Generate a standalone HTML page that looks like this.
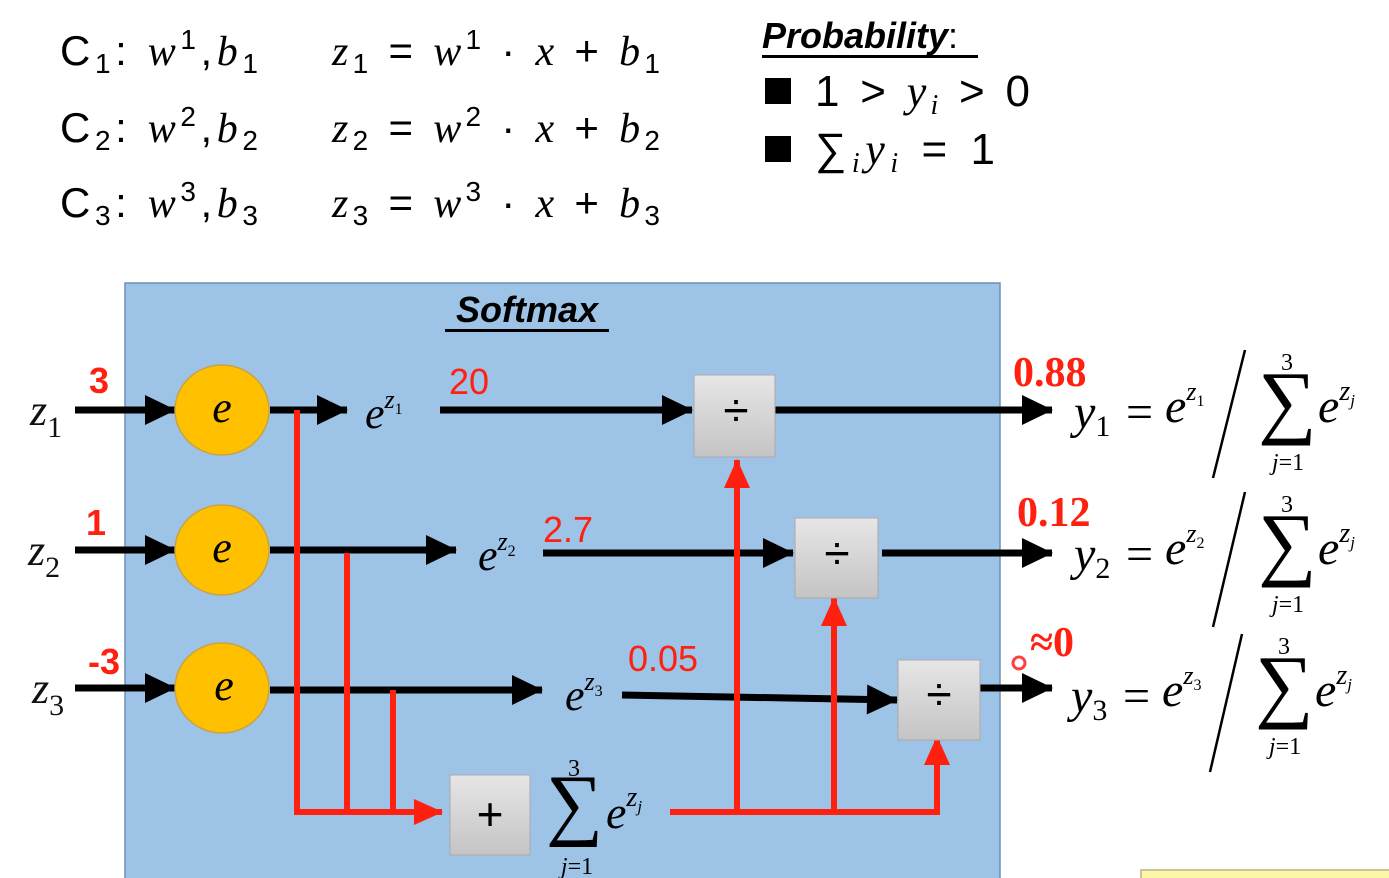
<!DOCTYPE html>
<html><head><meta charset="utf-8"><style>
html,body{margin:0;padding:0;background:#fff;}
svg{display:block;}
.m{font-family:"Liberation Serif",serif;font-style:italic;}
.s{font-family:"Liberation Sans",sans-serif;}
</style></head><body>
<svg width="1389" height="878" viewBox="0 0 1389 878" xmlns="http://www.w3.org/2000/svg">
<defs>
<marker id="ab" markerUnits="userSpaceOnUse" markerWidth="32" markerHeight="34" refX="30" refY="17" orient="auto" overflow="visible"><path d="M0,2 L31,17 L0,32 z" fill="#000"/></marker>
<marker id="ar" markerUnits="userSpaceOnUse" markerWidth="30" markerHeight="32" refX="28" refY="16" orient="auto" overflow="visible"><path d="M0,3 L29,16 L0,29 z" fill="#ff2010"/></marker>
<linearGradient id="g" x1="0" y1="0" x2="0" y2="1"><stop offset="0" stop-color="#e6e6e6"/><stop offset="1" stop-color="#c4c4c4"/></linearGradient>
</defs>
<g font-size="42">
<text x="60" y="65" class="s" textLength="198" lengthAdjust="spacing">C<tspan font-size="28" dy="8">1</tspan><tspan dy="-8">: </tspan><tspan class="m">w</tspan><tspan font-size="28" dy="-16">1</tspan><tspan dy="16">,</tspan><tspan class="m">b</tspan><tspan font-size="28" dy="8">1</tspan></text>
<text x="60" y="142" class="s" textLength="198" lengthAdjust="spacing">C<tspan font-size="28" dy="8">2</tspan><tspan dy="-8">: </tspan><tspan class="m">w</tspan><tspan font-size="28" dy="-16">2</tspan><tspan dy="16">,</tspan><tspan class="m">b</tspan><tspan font-size="28" dy="8">2</tspan></text>
<text x="60" y="217" class="s" textLength="198" lengthAdjust="spacing">C<tspan font-size="28" dy="8">3</tspan><tspan dy="-8">: </tspan><tspan class="m">w</tspan><tspan font-size="28" dy="-16">3</tspan><tspan dy="16">,</tspan><tspan class="m">b</tspan><tspan font-size="28" dy="8">3</tspan></text>
<text x="332" y="65" class="s" textLength="328" lengthAdjust="spacing"><tspan class="m">z</tspan><tspan font-size="28" dy="8">1</tspan><tspan dy="-8"> = </tspan><tspan class="m">w</tspan><tspan font-size="28" dy="-16">1</tspan><tspan dy="16"> · </tspan><tspan class="m">x</tspan> + <tspan class="m">b</tspan><tspan font-size="28" dy="8">1</tspan></text>
<text x="332" y="142" class="s" textLength="328" lengthAdjust="spacing"><tspan class="m">z</tspan><tspan font-size="28" dy="8">2</tspan><tspan dy="-8"> = </tspan><tspan class="m">w</tspan><tspan font-size="28" dy="-16">2</tspan><tspan dy="16"> · </tspan><tspan class="m">x</tspan> + <tspan class="m">b</tspan><tspan font-size="28" dy="8">2</tspan></text>
<text x="332" y="217" class="s" textLength="328" lengthAdjust="spacing"><tspan class="m">z</tspan><tspan font-size="28" dy="8">3</tspan><tspan dy="-8"> = </tspan><tspan class="m">w</tspan><tspan font-size="28" dy="-16">3</tspan><tspan dy="16"> · </tspan><tspan class="m">x</tspan> + <tspan class="m">b</tspan><tspan font-size="28" dy="8">3</tspan></text>
</g>
<text x="762" y="48" class="s" font-size="36" font-weight="bold" font-style="italic">Probability<tspan font-weight="normal" font-style="normal">:</tspan></text>
<rect x="762" y="55" width="216" height="3" fill="#000"/>
<rect x="765" y="78" width="26" height="26" fill="#000"/>
<rect x="765" y="136" width="26" height="26" fill="#000"/>
<text x="815" y="106" font-size="44" class="s" textLength="215" lengthAdjust="spacing">1 &gt; <tspan class="m">y</tspan><tspan font-size="28" dy="8" class="m">i</tspan><tspan dy="-8"> &gt; 0</tspan></text>
<text x="815" y="164" font-size="44" class="s" textLength="180" lengthAdjust="spacing">∑<tspan font-size="28" dy="8" class="m">i</tspan><tspan dy="-8" class="m">y</tspan><tspan font-size="28" dy="8" class="m">i</tspan><tspan dy="-8"> = 1</tspan></text>
<rect x="125" y="283" width="875" height="600" fill="#9dc3e6" stroke="#6d8fb5" stroke-width="1.5"/>
<text x="527" y="322" text-anchor="middle" class="s" font-size="36" font-weight="bold" font-style="italic">Softmax</text>
<rect x="445" y="329" width="164" height="3" fill="#000"/>
<g stroke="#000" stroke-width="7" fill="none">
<line x1="75" y1="410" x2="175" y2="410" marker-end="url(#ab)"/>
<line x1="75" y1="550" x2="175" y2="550" marker-end="url(#ab)"/>
<line x1="75" y1="688" x2="175" y2="688" marker-end="url(#ab)"/>
<line x1="270" y1="410" x2="347" y2="410" marker-end="url(#ab)"/>
<line x1="270" y1="550" x2="456" y2="550" marker-end="url(#ab)"/>
<line x1="270" y1="690" x2="542" y2="690" marker-end="url(#ab)"/>
<line x1="440" y1="410" x2="692" y2="410" marker-end="url(#ab)"/>
<line x1="543" y1="553" x2="793" y2="553" marker-end="url(#ab)"/>
<line x1="622" y1="695" x2="897" y2="700" marker-end="url(#ab)"/>
<line x1="775" y1="410" x2="1052" y2="410" marker-end="url(#ab)"/>
<line x1="882" y1="553" x2="1052" y2="553" marker-end="url(#ab)"/>
<line x1="978" y1="688" x2="1052" y2="688" marker-end="url(#ab)"/>
</g>
<g class="m" font-size="44" fill="#111">
<text x="30" y="425">z<tspan font-size="30" dy="12" font-style="normal">1</tspan></text>
<text x="28" y="565">z<tspan font-size="30" dy="12" font-style="normal">2</tspan></text>
<text x="32" y="703">z<tspan font-size="30" dy="12" font-style="normal">3</tspan></text>
</g>
<g class="s" font-size="36" font-weight="bold" fill="#ff2010">
<text x="89" y="393">3</text><text x="86" y="535">1</text><text x="88" y="674">-3</text>
</g>
<g fill="#ffc000" stroke="#c9a247" stroke-width="1.5">
<ellipse cx="222" cy="410" rx="47" ry="45"/><ellipse cx="222" cy="550" rx="47" ry="45"/><ellipse cx="222" cy="688" rx="47" ry="45"/>
</g>
<g class="m" font-size="44" text-anchor="middle"><text x="222" y="422">e</text><text x="222" y="562">e</text><text x="224" y="700">e</text></g>
<g class="m" font-size="44">
<text x="365" y="428">e<tspan font-size="26" dy="-20">z</tspan><tspan font-size="16" dy="6" font-style="normal">1</tspan></text>
<text x="478" y="570">e<tspan font-size="26" dy="-20">z</tspan><tspan font-size="16" dy="6" font-style="normal">2</tspan></text>
<text x="565" y="710">e<tspan font-size="26" dy="-20">z</tspan><tspan font-size="16" dy="6" font-style="normal">3</tspan></text>
</g>
<g class="s" font-size="36" fill="#ff2010"><text x="449" y="394">20</text><text x="543" y="542">2.7</text><text x="628" y="671">0.05</text></g>
<g stroke="#ff2010" stroke-width="6" fill="none">
<polyline points="297,410 297,812 442,812" marker-end="url(#ar)"/>
<line x1="347" y1="553" x2="347" y2="812"/>
<line x1="393" y1="690" x2="393" y2="812"/>
<line x1="670" y1="812" x2="940" y2="812"/>
<line x1="737" y1="812" x2="737" y2="460" marker-end="url(#ar)"/>
<line x1="834" y1="812" x2="834" y2="598" marker-end="url(#ar)"/>
<polyline points="937,812 937,737" marker-end="url(#ar)"/>
</g>
<g fill="url(#g)" stroke="#aaa" stroke-width="1">
<rect x="694" y="375" width="81" height="82"/><rect x="795" y="518" width="83" height="80"/><rect x="898" y="660" width="82" height="80"/><rect x="450" y="775" width="80" height="80"/>
</g>
<g class="s" font-size="46" text-anchor="middle">
<text x="736" y="426">÷</text><text x="837" y="569">÷</text><text x="939" y="710">÷</text><text x="490" y="830">+</text>
</g>
<g font-family="Liberation Serif,serif">
<text x="546" y="830" font-size="80">∑</text>
<text x="574" y="776" font-size="24" text-anchor="middle">3</text>
<text x="577" y="874" font-size="24" text-anchor="middle"><tspan font-style="italic">j</tspan>=1</text>
<text x="606" y="828" font-size="46" font-style="italic">e<tspan font-size="28" dy="-22">z</tspan><tspan font-size="17" dy="6">j</tspan></text>
</g>
<g font-family="Liberation Serif,serif" font-weight="bold" font-size="42" fill="#ff2010">
<text x="1013" y="386">0.88</text><text x="1017" y="526">0.12</text><text x="1030" y="656">≈0</text>
</g>
<circle cx="1019" cy="663" r="6" fill="none" stroke="#ff4040" stroke-width="3"/>
<g font-family="Liberation Serif,serif" font-size="48">
<g>
<text x="1074" y="428"><tspan font-style="italic">y</tspan><tspan font-size="30" dy="8">1</tspan></text>
<text x="1126" y="428">=</text>
<text x="1165" y="422" font-style="italic">e<tspan font-size="26" dy="-22">z</tspan><tspan font-size="16" dy="6" font-style="normal">1</tspan></text>
<line x1="1245" y1="350" x2="1213" y2="478" stroke="#000" stroke-width="2.5"/>
<text x="1258" y="428" font-size="82">∑</text><text x="1287" y="370" font-size="24" text-anchor="middle">3</text><text x="1288" y="470" font-size="24" text-anchor="middle"><tspan font-style="italic">j</tspan>=1</text>
<text x="1318" y="422" font-style="italic">e<tspan font-size="28" dy="-22">z</tspan><tspan font-size="17" dy="6">j</tspan></text>
</g>
<g transform="translate(0,142)">
<text x="1074" y="428"><tspan font-style="italic">y</tspan><tspan font-size="30" dy="8">2</tspan></text>
<text x="1126" y="428">=</text>
<text x="1165" y="422" font-style="italic">e<tspan font-size="26" dy="-22">z</tspan><tspan font-size="16" dy="6" font-style="normal">2</tspan></text>
<line x1="1245" y1="350" x2="1213" y2="485" stroke="#000" stroke-width="2.5"/>
<text x="1258" y="428" font-size="82">∑</text><text x="1287" y="370" font-size="24" text-anchor="middle">3</text><text x="1288" y="470" font-size="24" text-anchor="middle"><tspan font-style="italic">j</tspan>=1</text>
<text x="1318" y="422" font-style="italic">e<tspan font-size="28" dy="-22">z</tspan><tspan font-size="17" dy="6">j</tspan></text>
</g>
<g transform="translate(-3,284)">
<text x="1074" y="428"><tspan font-style="italic">y</tspan><tspan font-size="30" dy="8">3</tspan></text>
<text x="1126" y="428">=</text>
<text x="1165" y="422" font-style="italic">e<tspan font-size="26" dy="-22">z</tspan><tspan font-size="16" dy="6" font-style="normal">3</tspan></text>
<line x1="1245" y1="350" x2="1213" y2="488" stroke="#000" stroke-width="2.5"/>
<text x="1258" y="428" font-size="82">∑</text><text x="1287" y="370" font-size="24" text-anchor="middle">3</text><text x="1288" y="470" font-size="24" text-anchor="middle"><tspan font-style="italic">j</tspan>=1</text>
<text x="1318" y="422" font-style="italic">e<tspan font-size="28" dy="-22">z</tspan><tspan font-size="17" dy="6">j</tspan></text>
</g>
</g>
<rect x="1141" y="870" width="260" height="20" fill="#fdf7a8" stroke="#b8b08a" stroke-width="1.5"/>
</svg>
</body></html>
